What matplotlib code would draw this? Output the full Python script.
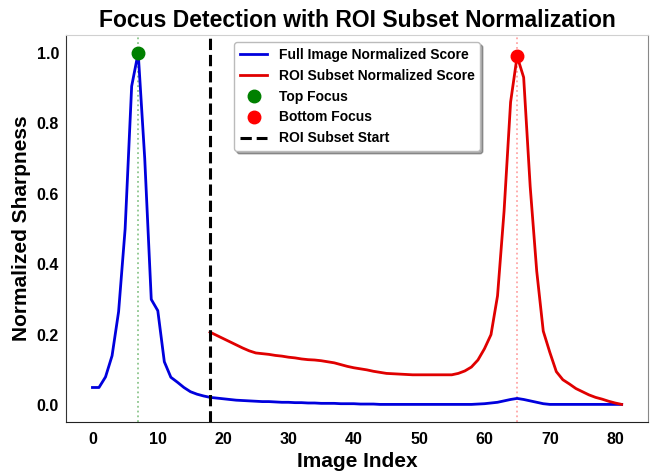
import matplotlib
matplotlib.use("Agg")
import matplotlib.pyplot as plt
import numpy as np

plt.rcParams['font.family'] = ['Liberation Sans', 'DejaVu Sans']

# Image indices
image_index = list(range(82))

# Full image normalized sharpness (index 0..81)
full_score = [
    0.050, 0.050, 0.080, 0.140, 0.265, 0.500, 0.905, 1.000, 0.700, 0.300,
    0.268, 0.123, 0.079, 0.065, 0.050, 0.038, 0.031, 0.026, 0.022, 0.020,
    0.018, 0.016, 0.014, 0.013, 0.012, 0.011, 0.010, 0.010, 0.009, 0.008,
    0.008, 0.007, 0.007, 0.006, 0.006, 0.005, 0.005, 0.005, 0.004, 0.004,
    0.004, 0.003, 0.003, 0.003, 0.002, 0.002, 0.002, 0.002, 0.002, 0.002,
    0.002, 0.002, 0.002, 0.002, 0.002, 0.002, 0.002, 0.002, 0.002, 0.003,
    0.004, 0.006, 0.008, 0.012, 0.016, 0.019, 0.016, 0.012, 0.008, 0.004,
    0.002, 0.002, 0.002, 0.002, 0.002, 0.002, 0.002, 0.002, 0.002, 0.002,
    0.002, 0.002,
]

# ROI subset starts at index 18
roi_start = 18
roi_index = list(range(18, 82))
roi_score = [
    0.207, 0.198, 0.189, 0.180, 0.171, 0.162, 0.154, 0.148, 0.146, 0.144,
    0.141, 0.139, 0.136, 0.134, 0.131, 0.129, 0.128, 0.126, 0.123, 0.120,
    0.115, 0.110, 0.106, 0.103, 0.100, 0.096, 0.093, 0.090, 0.089, 0.088,
    0.087, 0.086, 0.086, 0.086, 0.086, 0.086, 0.086, 0.086, 0.090, 0.097,
    0.108, 0.128, 0.160, 0.200, 0.310, 0.550, 0.860, 0.990, 0.930, 0.620,
    0.380, 0.210, 0.150, 0.095, 0.072, 0.060, 0.047, 0.038, 0.029, 0.022,
    0.017, 0.011, 0.006, 0.002,
]

top_focus = (7, 1.0)
bottom_focus = (65, 0.99)

fig = plt.figure(figsize=(6.6, 4.75), dpi=100)
ax = fig.add_axes([0.1, 0.1116, 0.882, 0.8144])

ax.axvline(top_focus[0], color='green', linestyle=':', linewidth=1.3, alpha=0.45, zorder=1)
ax.axvline(bottom_focus[0], color='red', linestyle=':', linewidth=1.3, alpha=0.35, zorder=1)

ax.plot(image_index, full_score, color='#0000dd', linewidth=2.0, label='Full Image Normalized Score', zorder=3)
ax.plot(roi_index, roi_score, color='#e00000', linewidth=2.0, label='ROI Subset Normalized Score', zorder=3)
ax.plot([top_focus[0]], [top_focus[1]], 'o', color='green', markersize=9, label='Top Focus', zorder=5)
ax.plot([bottom_focus[0]], [bottom_focus[1]], 'o', color='red', markersize=9, label='Bottom Focus', zorder=5)
ax.axvline(roi_start, color='black', linestyle='--', linewidth=2.2, label='ROI Subset Start', zorder=4)

ax.set_title('Focus Detection with ROI Subset Normalization', fontsize=16.5, fontweight='bold')
ax.set_xlabel('Image Index', fontsize=15, fontweight='bold')
ax.set_ylabel('Normalized Sharpness', fontsize=15, fontweight='bold')

ax.set_xticks([0, 10, 20, 30, 40, 50, 60, 70, 80])
ax.set_yticks([0.0, 0.2, 0.4, 0.6, 0.8, 1.0])
ax.tick_params(axis='both', length=0, labelsize=11.5)
ax.tick_params(axis='x', pad=7)
ax.tick_params(axis='y', pad=5)
for lbl in ax.get_xticklabels() + ax.get_yticklabels():
    lbl.set_fontweight('bold')

ax.spines['left'].set_color('#333333')
ax.spines['bottom'].set_color('#222222')
ax.spines['top'].set_color('#d0d0d0')
ax.spines['right'].set_color('#888888')

leg = ax.legend(loc='upper center', prop={'weight': 'bold', 'size': 10},
                shadow=True, fancybox=True, framealpha=1, edgecolor='#bbbbbb')

fig.savefig('out.png', dpi=100)
